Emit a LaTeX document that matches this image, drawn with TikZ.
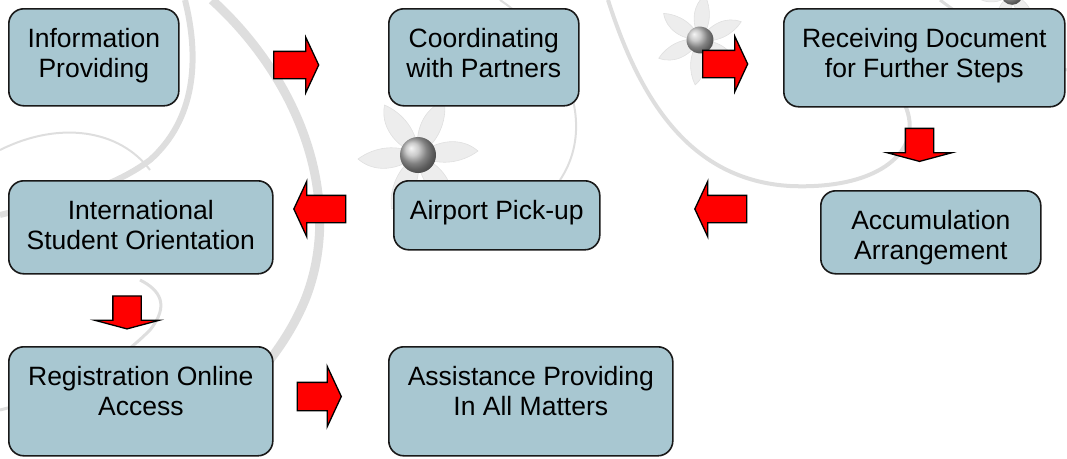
\documentclass[tikz,border=0pt]{standalone}
\usepackage{fontspec}
\setmainfont{Liberation Sans}
\usetikzlibrary{shapes.arrows,positioning}

\definecolor{stepblue}{RGB}{168,199,209}
\definecolor{swirl}{RGB}{222,222,222}
\newcommand{\stepfont}{\fontsize{26.5}{30}\selectfont}

\tikzset{
  stepbox/.style={draw=black!90, line width=1.6pt, fill=stepblue, rounded corners=15pt,
    anchor=north west, inner sep=0pt},
  steptext/.style={align=center, inner sep=0pt, anchor=north, yshift=-20pt, font=\stepfont},
  flowarrow/.style={single arrow, draw=black, fill=red, line width=1.3pt,
    inner xsep=0pt, inner ysep=13pt, single arrow head extend=14pt, minimum height=45pt,
    single arrow tip angle=130},
  flowdown/.style={flowarrow, shape border rotate=270, inner xsep=13.5pt, inner ysep=0pt,
    single arrow head extend=18pt, minimum height=33pt, single arrow tip angle=150},
  flowleft/.style={flowarrow, shape border rotate=180, minimum height=52pt},
  petal/.style={fill=gray!14, draw=gray!24, line width=0.6pt},
  flower/.pic={
    \foreach \a in {0,60,...,300}
      \path[petal, rotate=\a] (0,0) .. controls (20,-16) and (44,-18) .. (60,-4)
        .. controls (44,8) and (20,12) .. (0,0);
    \shade[ball color=gray!55] (0,0) circle (18pt);
  }
}

\begin{document}
\begin{tikzpicture}[x=1pt,y=-1pt]
  \useasboundingbox (0,0) rectangle (1067,458);

  % background swirls
  \draw[swirl, line width=9pt] (212,0) .. controls (300,80) and (345,200) .. (305,300)
    .. controls (280,360) and (230,410) .. (170,450);
  \draw[swirl, line width=6pt] (185,0) .. controls (200,60) and (195,120) .. (150,160)
    .. controls (110,190) and (60,200) .. (0,215);
  \draw[swirl, line width=2pt] (0,150) .. controls (60,120) and (120,130) .. (150,170);
  \draw[swirl, line width=3pt] (0,410) .. controls (60,395) and (110,370) .. (150,330)
    .. controls (170,305) and (160,290) .. (140,280);
  \draw[swirl, line width=4pt] (608,0) .. controls (640,100) and (690,180) .. (790,186)
    .. controls (880,190) and (925,150) .. (905,105);
  \draw[swirl, line width=2pt] (500,0) .. controls (560,40) and (600,120) .. (560,180);
  \draw[swirl, line width=3pt] (940,0) .. controls (980,30) and (1030,60) .. (1067,70);
  \path (418,155) pic {flower};
  \path (700,40) pic[scale=0.75, rotate=20] {flower};
  \path (1012,-6) pic[scale=0.6] {flower};

  % steps
  \node[stepbox, minimum width=170pt, minimum height=97pt,
    label={[steptext]north:Information\\Providing}] (info) at (8,8) {};
  \node[stepbox, minimum width=190pt, minimum height=97pt,
    label={[steptext]north:Coordinating\\with Partners}] (partners) at (388,8) {};
  \node[stepbox, minimum width=281pt, minimum height=98pt,
    label={[steptext]north:Receiving Document\\for Further Steps}] (receiving) at (783,8) {};
  \node[stepbox, minimum width=220pt, minimum height=83pt,
    label={[steptext]north:Accumulation\\Arrangement}] (accum) at (820,190) {};
  \node[stepbox, minimum width=206pt, minimum height=69pt,
    label={[steptext]north:Airport Pick-up}] (pickup) at (393,180) {};
  \node[stepbox, minimum width=264pt, minimum height=93pt,
    label={[steptext]north:International\\Student Orientation}] (orient) at (8,180) {};
  \node[stepbox, minimum width=264pt, minimum height=109pt,
    label={[steptext]north:Registration Online\\Access}] (regist) at (8,346) {};
  \node[stepbox, minimum width=284pt, minimum height=109pt,
    label={[steptext]north:Assistance Providing\\In All Matters}] (assist) at (388,346) {};

  % block arrows between the steps
  \node[flowarrow] (a1) at (293,65) {};
  \node[flowarrow] (a2) at (722,64) {};
  \node[flowdown] (a3) at (919.5,143) {};
  \node[flowleft] (a4) at (724,209) {};
  \node[flowleft] (a5) at (323,209) {};
  \node[flowdown] (a6) at (127,310.5) {};
  \node[flowarrow, minimum height=44pt, inner ysep=13.5pt, single arrow head extend=16pt] (a7) at (316,396.5) {};
\end{tikzpicture}
\end{document}
